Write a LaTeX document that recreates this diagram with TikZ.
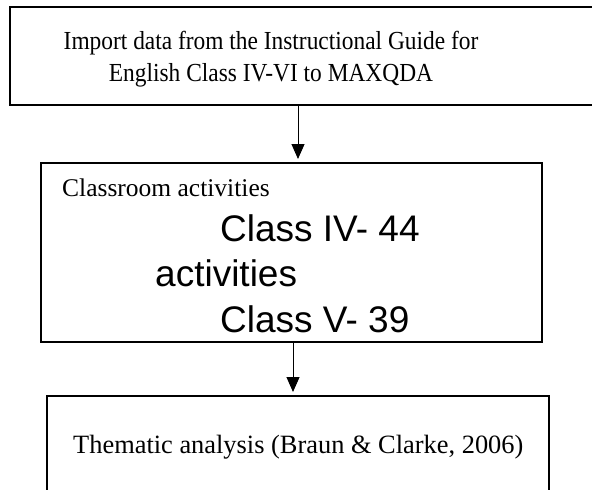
\documentclass[tikz,border=0pt]{standalone}
\usepackage{fontspec}
\setmainfont{Liberation Serif}
\newfontfamily\narrowserif[FakeStretch=0.9]{Liberation Serif}
\newfontfamily\arialfont{Liberation Sans}
\usetikzlibrary{arrows.meta}

\tikzset{
  stepbox/.style={draw, line width=2pt, inner sep=0pt},
  flow/.style={-{Triangle[width=13pt,length=15pt]}, line width=1pt, shorten >=3pt},
  serif/.style={inner sep=0pt, font=\fontsize{26}{32}\selectfont},
  sans/.style={inner sep=0pt, font=\arialfont\fontsize{37}{40}\selectfont}
}

\begin{document}
\begin{tikzpicture}[x=1pt,y=-1pt]
\clip (0,0) rectangle (592,490);

% boxes
\node[stepbox, minimum width=590pt, minimum height=98pt]  (import)   at (305,56) {};
\node[stepbox, minimum width=501pt, minimum height=179pt] (activity) at (291.5,252.5) {};
\node[stepbox, minimum width=502pt, minimum height=124pt] (theme)    at (298,458) {};

% texts
\node[serif, align=center, font=\narrowserif\fontsize{26}{32}\selectfont] (importtxt) at (271,59) {Import data from the Instructional Guide for\\English Class IV-VI to MAXQDA};
\node[serif, anchor=base west, font=\fontsize{25.5}{30}\selectfont] (classroom) at (62,196.5) {Classroom activities};
\node[sans, anchor=base west] (classfour) at (220,241.5) {Class IV- 44};
\node[sans, anchor=base west] (acts)      at (155,286.5) {activities};
\node[sans, anchor=base west] (classfive) at (220,332) {Class V- 39};
\node[serif, anchor=base west, font=\fontsize{26.4}{32}\selectfont] (themetxt) at (73,453) {Thematic analysis (Braun \& Clarke, 2006)};

% arrows
\coordinate (a1) at (298,0);
\coordinate (a2) at (293,0);
\draw[flow] (import.south -| a1) -- (activity.north -| a1);
\draw[flow] (activity.south -| a2) -- (theme.north -| a2);

\end{tikzpicture}
\end{document}
